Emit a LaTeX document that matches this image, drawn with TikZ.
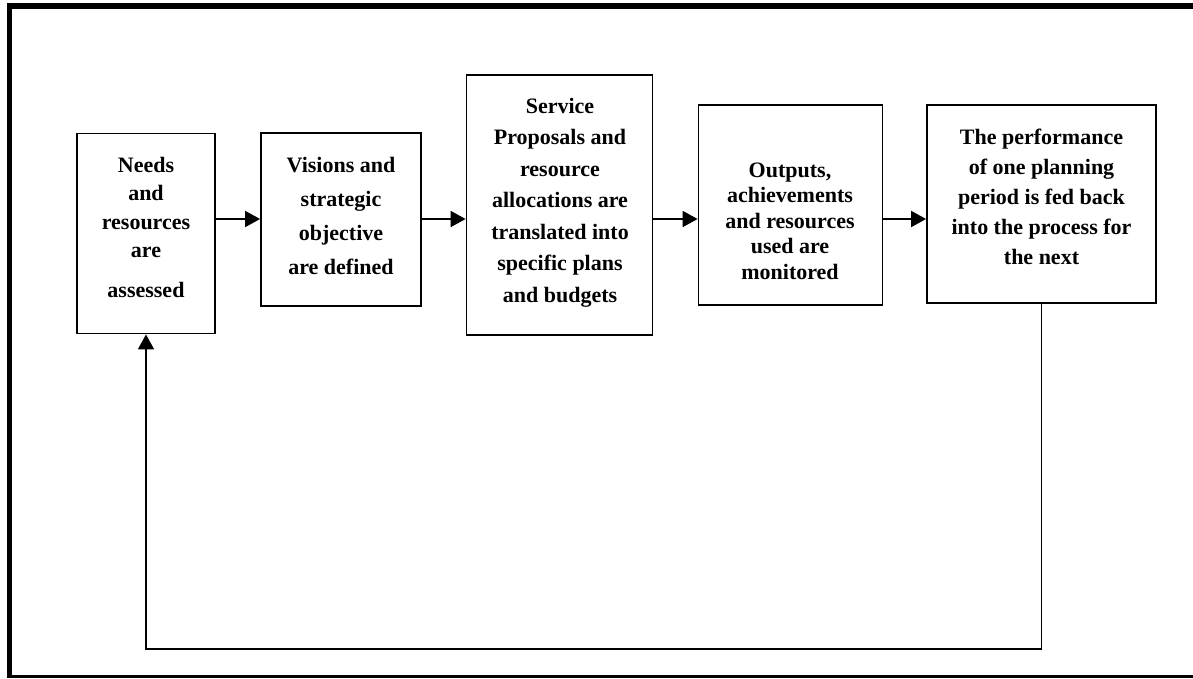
\documentclass[tikz,border=0pt]{standalone}
\usepackage{fontspec}
\setmainfont{Liberation Serif}
\usetikzlibrary{arrows.meta}
\begin{document}
\begin{tikzpicture}[x=1pt,y=-1pt,
  stepbox/.style={draw, line width=1.8pt, inner sep=0pt},
  steptext/.style={align=center, inner sep=0pt,
    font=\bfseries\fontsize{22}{#1}\selectfont},
  steptext/.default=30,
  flow/.style={line width=1.8pt, -{Triangle[length=15pt,width=16pt]}}
]
\useasboundingbox (0,0) rectangle (1193,678);

% outer frame: heavy top and left rules, light bottom rule
\draw[line width=6pt] (7,6) -- (1193,6);
\draw[line width=5pt] (9.5,3.5) -- (9.5,678);
\draw[line width=2.5pt] (7,676.5) -- (1193,676.5);

% process boxes
\node[stepbox, minimum width=138pt, minimum height=200pt] (b1) at (146,233.5) {};
\node[stepbox, minimum width=160pt, minimum height=173pt] (b2) at (341,219.5) {};
\node[stepbox, minimum width=186pt, minimum height=260pt] (b3) at (559.5,205) {};
\node[stepbox, minimum width=184pt, minimum height=200pt] (b4) at (790.5,205) {};
\node[stepbox, minimum width=229pt, minimum height=198pt] (b5) at (1041.5,204) {};

% box texts
\node[steptext=28.5] (t1) at (146,227.5) {Needs\\and\\resources\\are\\[11.5pt]assessed};
\node[steptext=34] (t2) at (341,216) {Visions and\\strategic\\objective\\are defined};
\node[steptext=31.5] (t3) at (560,202.5) {Service\\Proposals and\\resource\\allocations are\\translated into\\specific plans\\and budgets};
\node[steptext=25.5] (t4) at (790,221) {Outputs,\\achievements\\and resources\\used are\\monitored};
\node[steptext=30] (t5) at (1041.5,197) {The performance\\of one planning\\period is fed back\\into the process for\\the next};

% forward flow
\coordinate (row) at (0,219);
\draw[flow] (b1.east |- row) -- (b2.west |- row);
\draw[flow] (b2.east |- row) -- (b3.west |- row);
\draw[flow] (b3.east |- row) -- (b4.west |- row);
\draw[flow] (b4.east |- row) -- (b5.west |- row);

% feedback loop
\coordinate (loop) at (0,649);
\draw[flow] (b5.south) -- (b5.south |- loop) -- (b1.south |- loop) -- (b1.south);
\end{tikzpicture}
\end{document}
